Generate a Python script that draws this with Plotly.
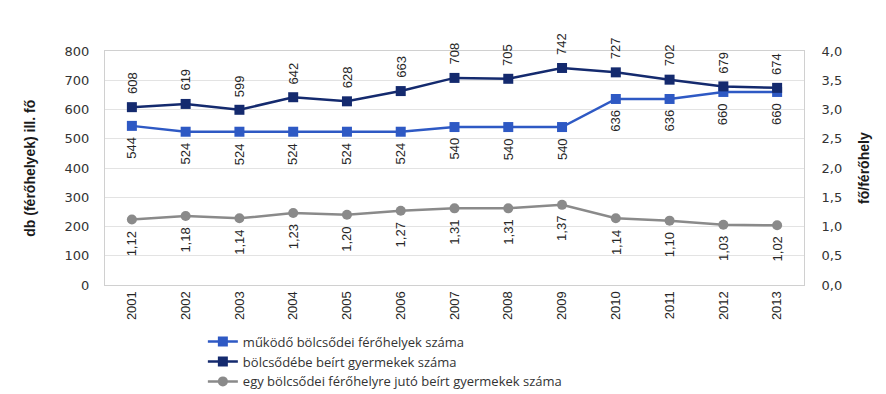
import plotly.graph_objects as go

years = ['2001', '2002', '2003', '2004', '2005', '2006', '2007',
         '2008', '2009', '2010', '2011', '2012', '2013']
ferohelyek = [544, 524, 524, 524, 524, 524, 540, 540, 540, 636, 636, 660, 660]
beirt = [608, 619, 599, 642, 628, 663, 708, 705, 742, 727, 702, 679, 674]
arany = [1.12, 1.18, 1.14, 1.23, 1.20, 1.27, 1.31, 1.31, 1.37, 1.14, 1.10, 1.03, 1.02]

names = ['működő bölcsődei férőhelyek száma',
         'bölcsődébe beírt gyermekek száma',
         'egy bölcsődei férőhelyre jutó beírt gyermekek száma']

c_blue = '#2E59C4'
c_navy = '#142A6E'
c_grey = '#8A8A8A'
narrow = 'Liberation Sans Narrow, Arial Narrow, sans-serif'
label_font = dict(family=narrow, size=13, color='#262626')

fig = go.Figure()
fig.add_trace(go.Scatter(x=years, y=ferohelyek, name=names[0], mode='lines+markers',
                         line=dict(color=c_blue, width=2.5),
                         marker=dict(symbol='square', size=10, color=c_blue)))
fig.add_trace(go.Scatter(x=years, y=beirt, name=names[1], mode='lines+markers',
                         line=dict(color=c_navy, width=2.5),
                         marker=dict(symbol='square', size=10, color=c_navy)))
fig.add_trace(go.Scatter(x=years, y=arany, name=names[2], mode='lines+markers', yaxis='y2',
                         line=dict(color=c_grey, width=2.5),
                         marker=dict(symbol='circle', size=10, color=c_grey)))

# adatcímkék (elforgatva) - kategória tengelyen index szerint
for i, v in enumerate(beirt):
    fig.add_annotation(x=i, y=v, text=str(v), textangle=-90, showarrow=False,
                       yshift=24, font=label_font)
for i, v in enumerate(ferohelyek):
    fig.add_annotation(x=i, y=v, text=str(v), textangle=-90, showarrow=False,
                       yshift=-22, font=label_font)
for i, v in enumerate(arany):
    fig.add_annotation(x=i, y=v, yref='y2', text=f'{v:.2f}'.replace('.', ','), textangle=-90,
                       showarrow=False, yshift=-24, font=label_font)

# tengelycímek
fig.add_annotation(xref='paper', yref='paper', x=-0.122, y=0.5, text='<b>db (férőhelyek) ill. fő</b>',
                   textangle=-90, showarrow=False, font=dict(family=narrow, size=14, color='#1a1a1a'))
fig.add_annotation(xref='paper', yref='paper', x=1.1, y=0.5, text='<b>fő/férőhely</b>',
                   textangle=-90, showarrow=False, font=dict(family=narrow, size=14, color='#1a1a1a'))

# az oldal 8px-es margója miatt kisebb méret
fig.update_layout(
    width=878, height=386,
    margin=dict(l=97, r=82, t=43, b=109, autoexpand=False),
    paper_bgcolor='white', plot_bgcolor='white',
    separators=', ',
    showlegend=True,
    legend=dict(x=0.14, y=-0.178, xanchor='left', yanchor='top', orientation='v',
                font=dict(family='Open Sans, sans-serif', size=13, color='#333333'),
                tracegroupgap=1, itemwidth=30),
    xaxis=dict(type='category', range=[-0.5, 12.5], tickangle=-90, showgrid=False, ticks='',
               showline=True, linecolor='#D0D0D0', mirror=True,
               tickfont=dict(family=narrow, size=13, color='#262626')),
    yaxis=dict(range=[0, 800], dtick=100, showgrid=True, gridcolor='#E3E3E3', zeroline=False,
               showline=True, linecolor='#D0D0D0', ticks='', ticklabelstandoff=12,
               tickfont=dict(family='DejaVu Sans, sans-serif', size=13, color='#333333')),
    yaxis2=dict(range=[0, 4], dtick=0.5, tickformat='.1f', overlaying='y', side='right',
                showgrid=False, zeroline=False, showline=True, linecolor='#D0D0D0',
                ticks='', ticklabelstandoff=14,
                tickfont=dict(family='DejaVu Sans, sans-serif', size=13, color='#333333')),
)

fig.write_html("out.html")
